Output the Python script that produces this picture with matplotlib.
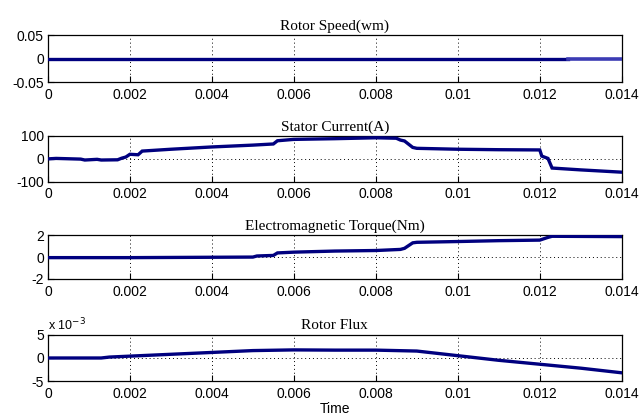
import matplotlib
matplotlib.use('Agg')
import matplotlib.pyplot as plt

# time axis ticks
xticks = [0, 0.002, 0.004, 0.006, 0.008, 0.01, 0.012, 0.014]
xticklabels = ['0', '0.002', '0.004', '0.006', '0.008', '0.01', '0.012', '0.014']

# rotor speed (stays at zero)
t_speed = [0, 0.0127, 0.0127, 0.014]
speed = [0, 0, 0, 0]

# stator current (A)
t_cur = [0, 0.0002, 0.0008, 0.0009, 0.0012, 0.0013, 0.0017, 0.0018, 0.0019, 0.0020, 0.0022,
         0.0023, 0.0030, 0.0040, 0.0050, 0.0055, 0.0056, 0.0060, 0.0070, 0.0080, 0.0085,
         0.0086, 0.0087, 0.0089, 0.0090, 0.0100, 0.0110, 0.0120, 0.01205, 0.0122, 0.0123,
         0.0130, 0.0140]
cur = [0, 2, -1, -5, -2, -5, -4, 3, 8, 20, 18,
       34, 42, 52, 60, 65, 79, 85, 88, 92, 90,
       82, 78, 50, 46, 42, 40, 39, 12, 2, -40,
       -48, -58]

# electromagnetic torque (Nm)
t_tq = [0, 0.0020, 0.0050, 0.0051, 0.0055, 0.0056, 0.0060, 0.0070, 0.0080, 0.0086,
        0.0087, 0.0089, 0.0090, 0.0100, 0.0110, 0.0120, 0.0122, 0.0123, 0.0140]
tq = [-0.05, -0.05, 0.0, 0.1, 0.15, 0.38, 0.45, 0.55, 0.6, 0.7,
      0.8, 1.3, 1.35, 1.42, 1.5, 1.55, 1.8, 1.9, 1.87]

# rotor flux (x 1e-3)
t_flux = [0, 0.0013, 0.0015, 0.0020, 0.0030, 0.0040, 0.0050, 0.0060, 0.0070, 0.0080,
          0.0090, 0.0095, 0.0100, 0.0110, 0.0120, 0.0130, 0.0140]
flux = [0, 0, 0.2, 0.4, 0.8, 1.2, 1.6, 1.75, 1.7, 1.7,
        1.5, 1.0, 0.5, -0.5, -1.35, -2.2, -3.2]

titles = ['Rotor Speed(wm)', 'Stator Current(A)', 'Electromagnetic Torque(Nm)', 'Rotor Flux']
ylims = [(-0.05, 0.05), (-100, 100), (-2, 2), (-5, 5)]
yticks = [[-0.05, 0, 0.05], [-100, 0, 100], [-2, 0, 2], [-5, 0, 5]]
yticklabels = [['-0.05', '0', '0.05'], ['-100', '0', '100'], ['-2', '0', '2'], ['-5', '0', '5']]

plt.rcParams['font.family'] = ['Liberation Sans', 'DejaVu Sans']

fig = plt.figure(figsize=(6.39, 4.17), dpi=100)
fig.patch.set_facecolor('white')

# axes boxes in figure fractions (left, bottom, width, height)
boxes = [
    [0.075, 0.803, 0.898, 0.113],
    [0.075, 0.564, 0.898, 0.110],
    [0.075, 0.331, 0.898, 0.105],
    [0.075, 0.086, 0.898, 0.111],
]
series = [(t_speed, speed), (t_cur, cur), (t_tq, tq), (t_flux, flux)]
line_color = '#00007f'

for i in range(4):
    ax = fig.add_axes(boxes[i])
    t, y = series[i]
    if i == 0:
        ax.plot(t[:2], y[:2], color=line_color, lw=2.4, zorder=3)
        ax.plot(t[2:], y[2:], color='#3c3cb4', lw=2.6, zorder=3)
    else:
        ax.plot(t, y, color=line_color, lw=2.4, zorder=3, solid_joinstyle='miter')
    ax.set_xlim(0, 0.014)
    ax.set_ylim(*ylims[i])
    ax.set_xticks(xticks)
    ax.set_xticklabels(xticklabels)
    ax.set_yticks(yticks[i])
    ax.set_yticklabels(yticklabels[i])
    ax.tick_params(direction='in', length=4, width=0.8, labelsize=10, pad=4, colors='black')
    ax.tick_params(axis='y', pad=3)
    ax.grid(True, color='black', linestyle=(0, (1, 3)), linewidth=0.7)
    for s in ax.spines.values():
        s.set_linewidth(0.9)
    ax.set_title(titles[i], fontsize=11, family=['Liberation Serif', 'DejaVu Serif'], pad=4)

ax.text(0.0, 1.03, 'x 10$^{-3}$', transform=ax.transAxes, fontsize=9, ha='left', va='bottom')
ax.set_xlabel('Time', fontsize=10, labelpad=1)

fig.savefig('out.png', dpi=100, facecolor='white')
